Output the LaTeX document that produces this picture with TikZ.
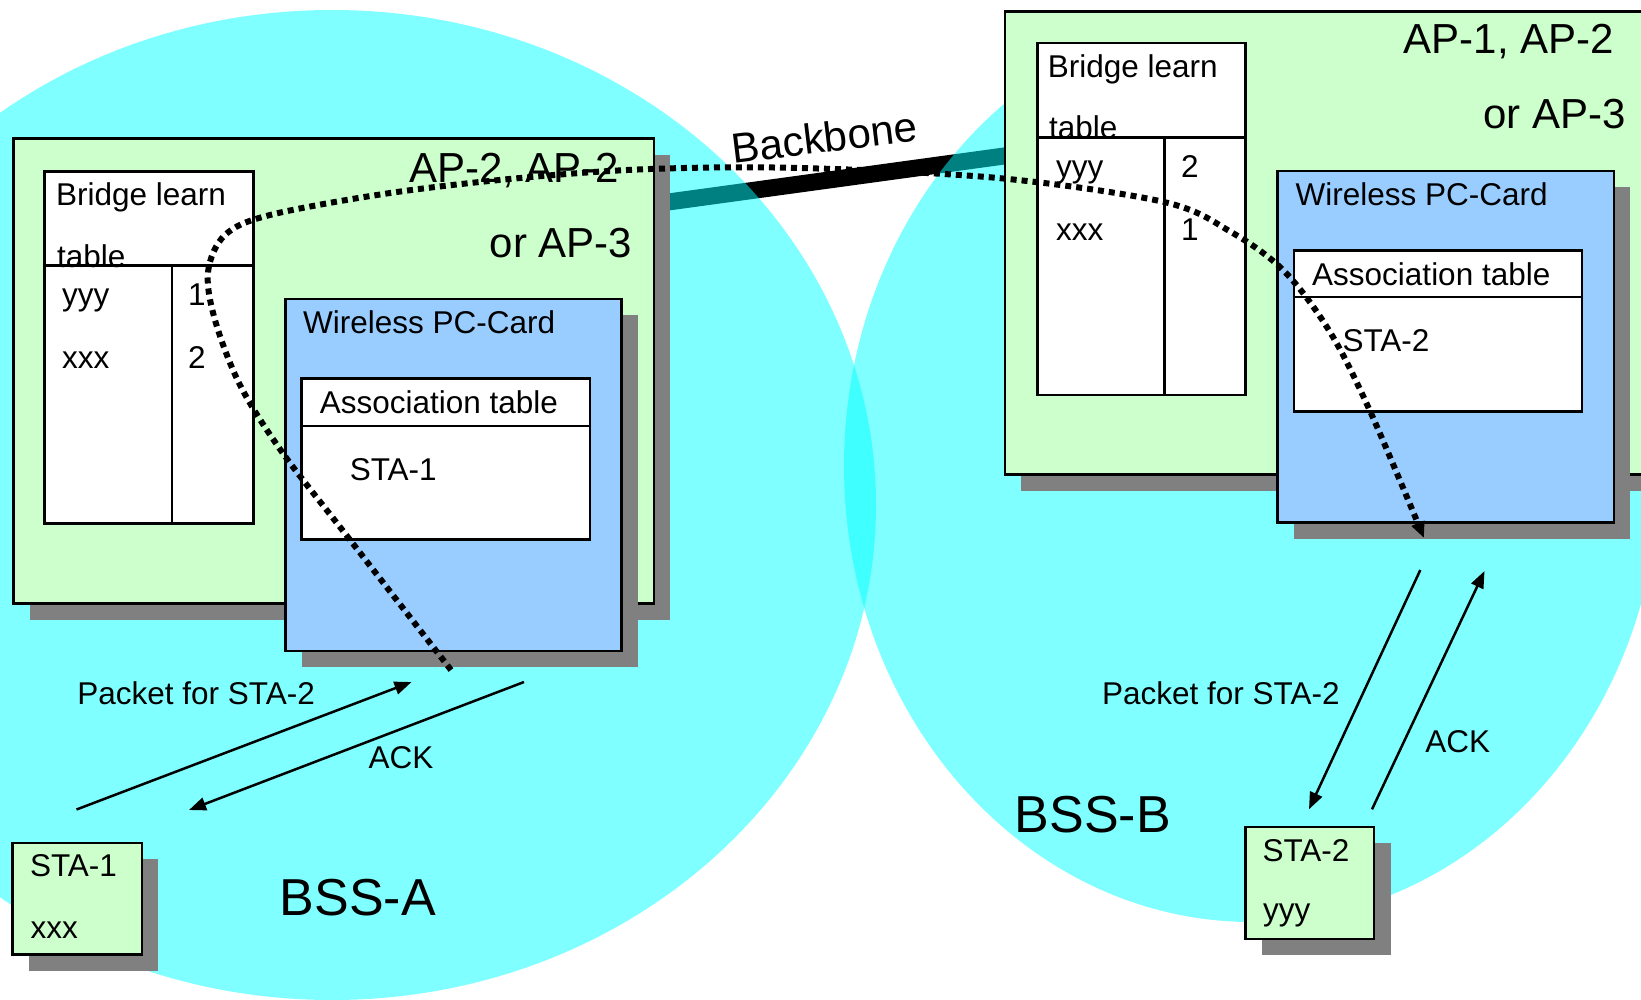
\documentclass[tikz,border=0pt]{standalone}
\usepackage{fontspec}
\setmainfont{Liberation Sans}
\usetikzlibrary{arrows.meta,shadows}
\definecolor{apgreen}{RGB}{204,255,204}
\definecolor{cardblue}{RGB}{153,204,255}
\definecolor{shadowgray}{RGB}{128,128,128}
\definecolor{cellcyan}{RGB}{0,255,255}
\tikzset{
  box/.style={draw=black, line width=2.5pt, rectangle, inner sep=0pt, anchor=north west},
  shadowed/.style={drop shadow={shadow xshift=16.5pt, shadow yshift=-16.5pt, fill=shadowgray, opacity=1}},
  apbox/.style={box, fill=apgreen, shadowed},
  cardbox/.style={box, fill=cardblue, shadowed},
  tablebox/.style={box, fill=white},
  stabox/.style={box, fill=apgreen, shadowed},
  lbl/.style={anchor=base west, inner sep=0pt, font=\fontsize{31.5}{36}\selectfont},
  biglbl/.style={anchor=base east, inner sep=0pt, font=\fontsize{42}{48}\selectfont},
  bsslbl/.style={anchor=base west, inner sep=0pt, font=\fontsize{52}{60}\selectfont},
  cell/.style={draw=black, line width=2.5pt},
  msg/.style={line width=2.5pt, -{Triangle[length=17pt,width=13pt]}},
  route/.style={line width=6pt, dash pattern=on 6pt off 5pt, -{Triangle[length=16pt,width=13pt]}},
  bss/.style={fill=cellcyan, fill opacity=0.5},
  backbone/.style={draw=black, line width=17pt},
}
\begin{document}
\begin{tikzpicture}[x=1pt,y=-1pt]
\useasboundingbox (0,0) rectangle (1641,999);
\clip (0,0) rectangle (1641,999);

% backbone cable between the two access points
\coordinate (bbL) at (650,204.5);
\coordinate (bbR) at (1010,155.2);
\draw[backbone] (bbL) -- (bbR);

% radio cells
\fill[bss] (332,505) ellipse [x radius=544pt, y radius=495pt];
\fill[bss] (1252,466) ellipse [x radius=408pt, y radius=456pt];

% ---- left access point ----
\node[apbox, minimum width=640.6pt, minimum height=465pt] (apL) at (12,137) {};
\node[tablebox, minimum width=209pt, minimum height=352pt] (brL) at (43.4,170) {};
\draw[cell] ([yshift=-95.7pt]brL.north west) -- ([yshift=-95.7pt]brL.north east);
\draw[cell] ([xshift=128.8pt,yshift=-95.7pt]brL.north west) -- ([xshift=128.8pt]brL.south west);
\node[cardbox, minimum width=336pt, minimum height=352pt] (cardL) at (284,297.5) {};
\node[tablebox, minimum width=288.5pt, minimum height=161pt] (asL) at (300,377) {};
\draw[cell] ([yshift=-49pt]asL.north west) -- ([yshift=-49pt]asL.north east);

\node[lbl] (brLt1) at (56,205.7) {Bridge learn};
\node[lbl] (brLt2) at (57,267) {table};
\node[lbl] (brLy) at (62,305.7) {yyy};
\node[lbl] (brLy1) at (188,305.7) {1};
\node[lbl] (brLx) at (62,368.2) {xxx};
\node[lbl] (brLx2) at (188,368.2) {2};
\node[biglbl] (apLt1) at (619.5,182.5) {AP-2, AP-2};
\node[biglbl] (apLt2) at (632.5,257.5) {or AP-3};
\node[lbl] (cardLt) at (303,333) {Wireless PC-Card};
\node[lbl] (asLt) at (319.6,413) {Association table};
\node[lbl] (asLs) at (349.6,480.7) {STA-1};

% ---- right access point ----
\node[apbox, minimum width=696.3pt, minimum height=463pt] (apR) at (1003.7,10) {};
\node[tablebox, minimum width=208pt, minimum height=351.8pt] (brR) at (1036,41.8) {};
\draw[cell] ([yshift=-95.7pt]brR.north west) -- ([yshift=-95.7pt]brR.north east);
\draw[cell] ([xshift=128.4pt,yshift=-95.7pt]brR.north west) -- ([xshift=128.4pt]brR.south west);
\node[cardbox, minimum width=336.6pt, minimum height=351.4pt] (cardR) at (1276,169.6) {};
\node[tablebox, minimum width=288.2pt, minimum height=161pt] (asR) at (1292.6,249) {};
\draw[cell] ([yshift=-48pt]asR.north west) -- ([yshift=-48pt]asR.north east);

\node[lbl] (brRt1) at (1047.7,77) {Bridge learn};
\node[lbl] (brRt2) at (1049,138.6) {table};
\node[lbl] (brRy) at (1056,177.5) {yyy};
\node[lbl] (brRy2) at (1181,177.5) {2};
\node[lbl] (brRx) at (1056,240) {xxx};
\node[lbl] (brRx1) at (1181,240) {1};
\node[biglbl] (apRt1) at (1614,53.6) {AP-1, AP-2};
\node[biglbl] (apRt2) at (1626,128.6) {or AP-3};
\node[lbl] (cardRt) at (1295.5,205) {Wireless PC-Card};
\node[lbl] (asRt) at (1312,285.7) {Association table};
\node[lbl] (asRs) at (1342.3,351.8) {STA-2};

% ---- stations ----
\node[stabox, minimum width=129.4pt, minimum height=111.6pt] (sta1) at (11.2,841.7) {};
\node[lbl] (sta1n) at (29.8,876) {STA-1};
\node[lbl] (sta1a) at (30.5,938.3) {xxx};
\node[stabox, minimum width=128.9pt, minimum height=112pt] (sta2) at (1244,825.7) {};
\node[lbl] (sta2n) at (1262.3,861) {STA-2};
\node[lbl] (sta2a) at (1263,920) {yyy};

\node[bsslbl] (bssA) at (279.7,915) {BSS-A};
\node[bsslbl] (bssB) at (1014.6,832.3) {BSS-B};

\node[anchor=base west, inner sep=0pt, rotate=6.9, font=\fontsize{42}{48}\selectfont] (bbt) at (733,163.6) {Backbone};

% ---- frame exchange in BSS-A ----
\coordinate (pktA1) at (76.5,809.5);
\coordinate (pktA2) at (411.5,682);
\coordinate (ackA1) at (524,682);
\coordinate (ackA2) at (189,810);
\draw[msg] (pktA1) -- (pktA2);
\draw[msg] (ackA1) -- (ackA2);
\node[lbl] (pktAt) at (77.1,704) {Packet for STA-2};
\node[lbl] (ackAt) at (368.3,768.3) {ACK};

% ---- frame exchange in BSS-B ----
\coordinate (pktB1) at (1420.3,570);
\coordinate (pktB2) at (1309,809.3);
\coordinate (ackB1) at (1372,809.3);
\coordinate (ackB2) at (1484.5,571);
\draw[msg] (pktB1) -- (pktB2);
\draw[msg] (ackB1) -- (ackB2);
\node[lbl] (pktBt) at (1101.9,704.3) {Packet for STA-2};
\node[lbl] (ackBt) at (1425.2,752.3) {ACK};

% ---- path of the packet through both bridges ----
\coordinate (routeStart) at (451,670);
\coordinate (routeEnd) at (1424,538);
\draw[route] plot[smooth, tension=0.55] coordinates {
  (routeStart) (347,536) (282,452) (240,385) (215,320) (208,272) (225,235)
  (270,215) (390,193) (520,178) (650,169) (800,168) (998,178) (1164,202)
  (1231,232) (1284,271) (1330,332) (1370,411) (routeEnd)};
\end{tikzpicture}
\end{document}
